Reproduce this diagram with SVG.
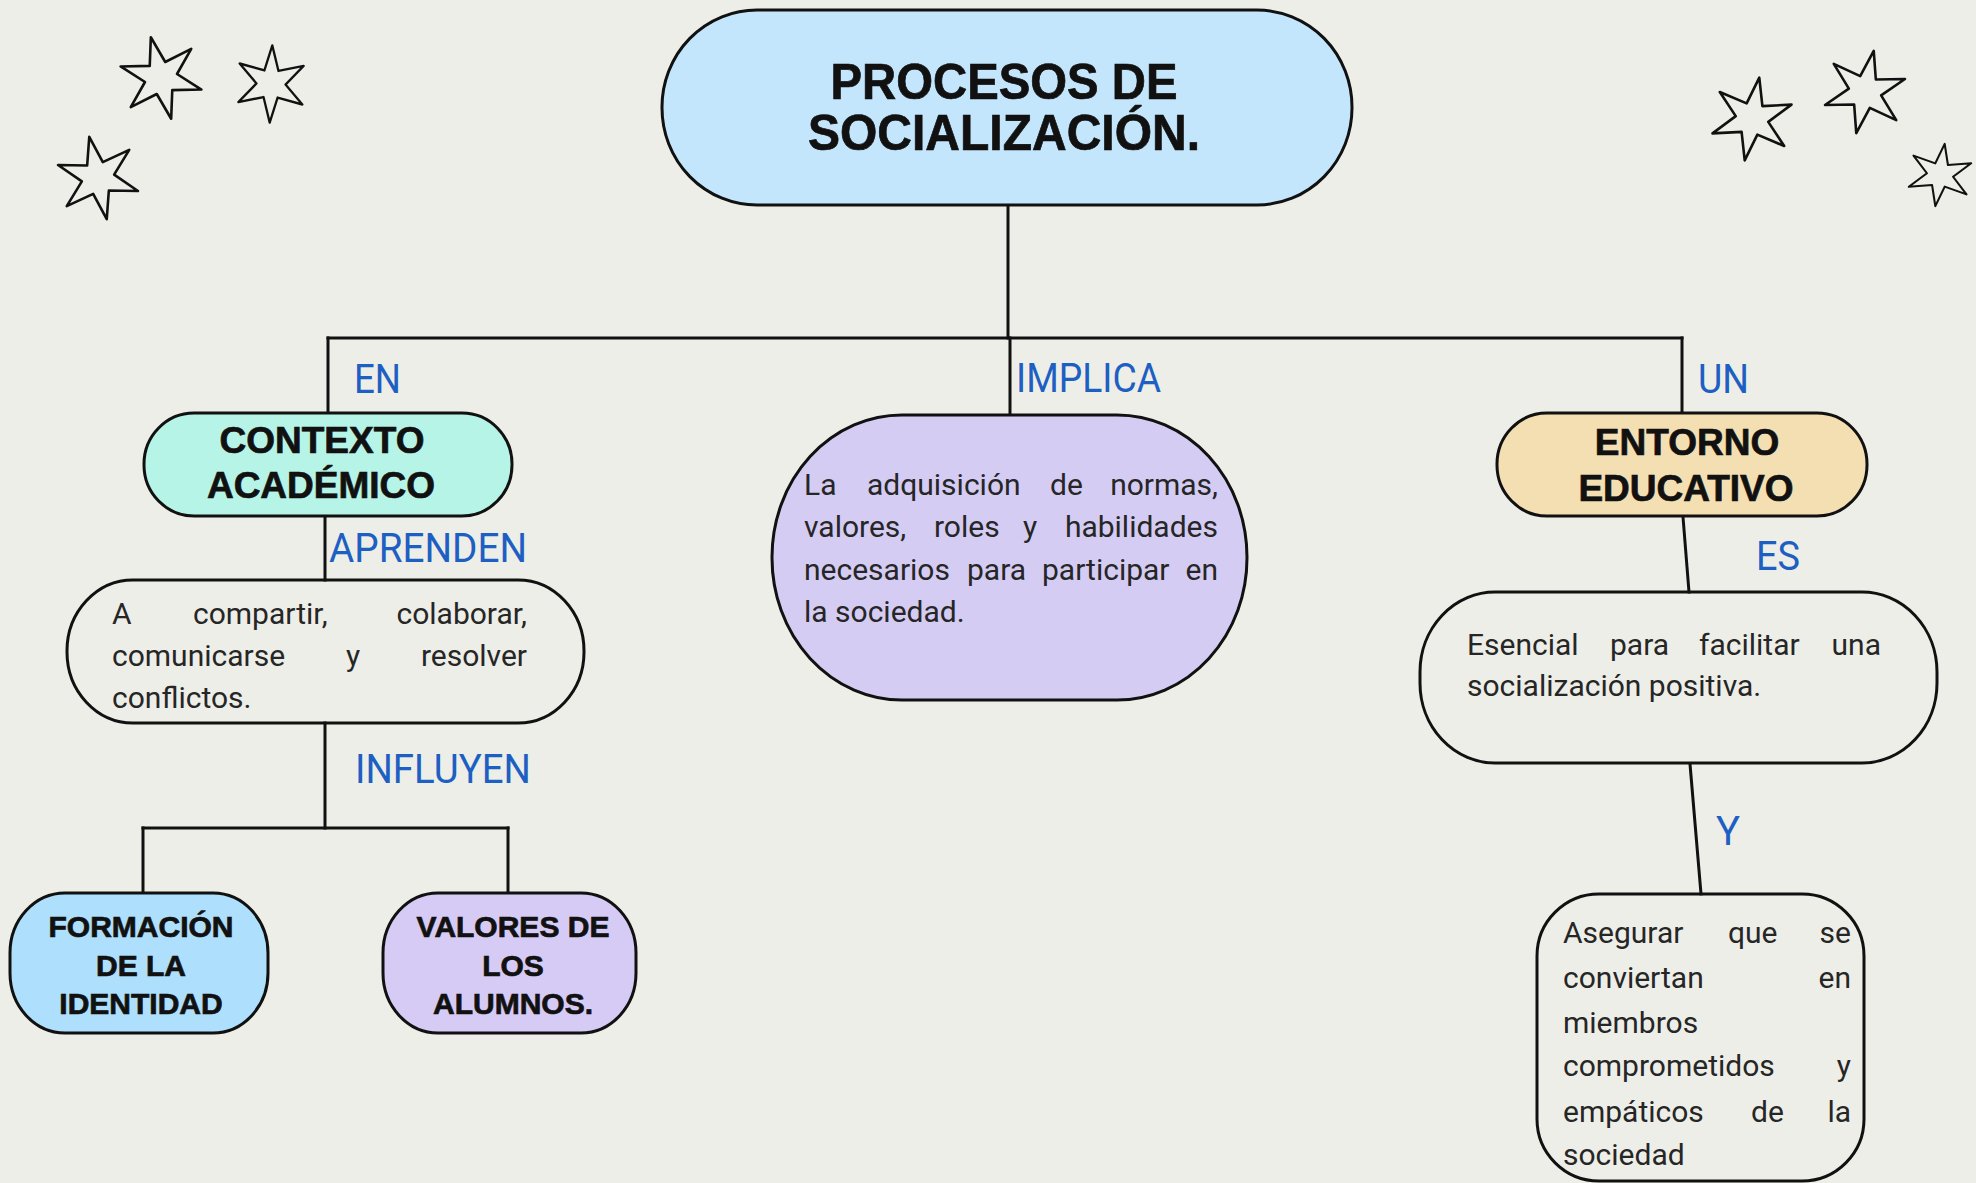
<svg xmlns="http://www.w3.org/2000/svg" xmlns:xlink="http://www.w3.org/1999/xlink" width="1976" height="1183" viewBox="0 0 1976 1183">
<style>
.bg{fill:#eeeee8}
.node{stroke:#111;stroke-width:3}
.title{font-family:"Liberation Sans",Arial,sans-serif;font-weight:bold;fill:#111;stroke:#111;stroke-width:0.7;text-anchor:middle}
.body{font-family:Roboto,"Liberation Sans",sans-serif;font-size:30px;fill:#262626}
.end{text-anchor:end}
.lbl{font-family:Roboto,"Liberation Sans",sans-serif;font-size:40px;fill:#1d5fc2}
.conn line{stroke:#111;stroke-width:3;stroke-linecap:square}
.star{fill:none;stroke:#111;stroke-width:2.6;stroke-linejoin:round}
</style>
<defs>
<path id="star" d="M0,-42 L8,-14.5 L36.4,-21 L16.5,0 L36.4,21 L8,14.5 L0,42 L-8,14.5 L-36.4,21 L-16.5,0 L-36.4,-21 L-8,-14.5 Z"/>
</defs>
<rect class="bg" x="0" y="0" width="1976" height="1183"/>

<g id="stars">
<use href="#star" class="star" transform="translate(161,78) rotate(-14)"/>
<use href="#star" class="star" transform="translate(271,84) scale(0.88,0.92) rotate(2)"/>
<use href="#star" class="star" transform="translate(98,178) rotate(-12)"/>
<use href="#star" class="star" transform="translate(1752,119) rotate(10)"/>
<use href="#star" class="star" transform="translate(1865,92) rotate(12)"/>
<use href="#star" class="star" transform="translate(1940,175) scale(0.8,0.75) rotate(8)"/>
</g>

<g class="conn" id="connectors">
<line x1="1008" y1="205" x2="1008" y2="338"/>
<line x1="328" y1="338" x2="1682" y2="338"/>
<line x1="328" y1="338" x2="328" y2="413"/>
<line x1="1010" y1="338" x2="1010" y2="415"/>
<line x1="1682" y1="338" x2="1682" y2="413"/>
<line x1="325" y1="516" x2="325" y2="580"/>
<line x1="325" y1="723" x2="325" y2="828"/>
<line x1="143" y1="828" x2="508" y2="828"/>
<line x1="143" y1="828" x2="143" y2="893"/>
<line x1="508" y1="828" x2="508" y2="893"/>
<line x1="1683" y1="517" x2="1689" y2="592"/>
<line x1="1690" y1="764" x2="1701" y2="894"/>
</g>

<g id="labels">
<text class="lbl" x="354" y="393" textLength="47" lengthAdjust="spacingAndGlyphs">EN</text>
<text class="lbl" x="1016" y="392" textLength="145" lengthAdjust="spacingAndGlyphs">IMPLICA</text>
<text class="lbl" x="1698" y="393" textLength="51" lengthAdjust="spacingAndGlyphs">UN</text>
<text class="lbl" x="329" y="562" textLength="198" lengthAdjust="spacingAndGlyphs">APRENDEN</text>
<text class="lbl" x="355" y="783" textLength="176" lengthAdjust="spacingAndGlyphs">INFLUYEN</text>
<text class="lbl" x="1756" y="570" textLength="44" lengthAdjust="spacingAndGlyphs">ES</text>
<text class="lbl" x="1716" y="845">Y</text>
</g>

<g id="n-procesos">
<rect class="node" x="662" y="10" width="690" height="195" rx="95" ry="97" fill="#c4e6fc"/>
<text class="title" font-size="50" x="1004" y="99" textLength="347" lengthAdjust="spacingAndGlyphs">PROCESOS DE</text>
<text class="title" font-size="50" x="1004" y="150" textLength="392" lengthAdjust="spacingAndGlyphs">SOCIALIZACIÓN.</text>
</g>

<g id="n-contexto">
<rect class="node" x="144" y="413" width="368" height="103" rx="50" ry="51" fill="#b6f4e7"/>
<text class="title" font-size="37" x="322" y="453">CONTEXTO</text>
<text class="title" font-size="37" x="321" y="498">ACADÉMICO</text>
</g>

<g id="n-implica">
<rect class="node" x="772" y="415" width="475" height="285" rx="130" ry="142" fill="#d5ccf4"/>
<text class="body"><tspan x="804" y="495">La</tspan><tspan x="867" y="495">adquisición</tspan><tspan x="1050" y="495">de</tspan><tspan class="end" x="1218" y="495">normas,</tspan></text>
<text class="body"><tspan x="804" y="537">valores,</tspan><tspan x="934" y="537">roles</tspan><tspan x="1023" y="537">y</tspan><tspan class="end" x="1218" y="537">habilidades</tspan></text>
<text class="body"><tspan x="804" y="580">necesarios</tspan><tspan x="967" y="580">para</tspan><tspan x="1042" y="580">participar</tspan><tspan class="end" x="1218" y="580">en</tspan></text>
<text class="body" x="804" y="622">la sociedad.</text>
</g>

<g id="n-entorno">
<rect class="node" x="1497" y="413" width="370" height="103" rx="50" ry="51" fill="#f4dfb3"/>
<text class="title" font-size="37" x="1687" y="455">ENTORNO</text>
<text class="title" font-size="37" x="1686" y="501">EDUCATIVO</text>
</g>

<g id="n-aprenden">
<rect class="node" x="67" y="580" width="517" height="143" rx="66" ry="71" fill="none"/>
<text class="body"><tspan x="112" y="624">A</tspan><tspan x="193" y="624">compartir,</tspan><tspan class="end" x="527" y="624">colaborar,</tspan></text>
<text class="body"><tspan x="112" y="666">comunicarse</tspan><tspan x="346" y="666">y</tspan><tspan class="end" x="527" y="666">resolver</tspan></text>
<text class="body" x="112" y="708">conflictos.</text>
</g>

<g id="n-esencial">
<rect class="node" x="1420" y="592" width="517" height="171" rx="75" ry="80" fill="none"/>
<text class="body"><tspan x="1467" y="655">Esencial</tspan><tspan x="1610" y="655">para</tspan><tspan x="1699" y="655">facilitar</tspan><tspan class="end" x="1881" y="655">una</tspan></text>
<text class="body" x="1467" y="696">socialización positiva.</text>
</g>

<g id="n-formacion">
<rect class="node" x="10" y="893" width="258" height="140" rx="55" ry="60" fill="#aedffc"/>
<text class="title" font-size="30" x="141" y="937">FORMACIÓN</text>
<text class="title" font-size="30" x="141" y="976">DE LA</text>
<text class="title" font-size="30" x="141" y="1014">IDENTIDAD</text>
</g>

<g id="n-valores">
<rect class="node" x="383" y="893" width="253" height="140" rx="55" ry="60" fill="#d6cbf5"/>
<text class="title" font-size="30" x="513" y="937">VALORES DE</text>
<text class="title" font-size="30" x="513" y="976">LOS</text>
<text class="title" font-size="30" x="513" y="1014">ALUMNOS.</text>
</g>

<g id="n-asegurar">
<rect class="node" x="1537" y="894" width="327" height="287" rx="62" ry="62" fill="none"/>
<text class="body"><tspan x="1563" y="943">Asegurar</tspan><tspan x="1728" y="943">que</tspan><tspan class="end" x="1851" y="943">se</tspan></text>
<text class="body"><tspan x="1563" y="988">conviertan</tspan><tspan class="end" x="1851" y="988">en</tspan></text>
<text class="body" x="1563" y="1033">miembros</text>
<text class="body"><tspan x="1563" y="1076">comprometidos</tspan><tspan class="end" x="1851" y="1076">y</tspan></text>
<text class="body"><tspan x="1563" y="1122">empáticos</tspan><tspan x="1751" y="1122">de</tspan><tspan class="end" x="1851" y="1122">la</tspan></text>
<text class="body" x="1563" y="1165">sociedad</text>
</g>
</svg>
